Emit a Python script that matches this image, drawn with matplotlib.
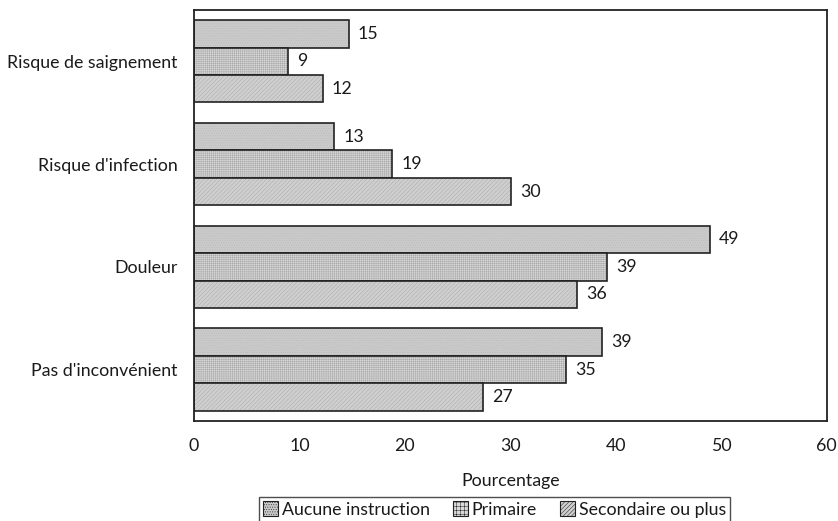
import numpy as np
import matplotlib.pyplot as plt

plt.rcParams['font.family'] = ['Lato', 'DejaVu Sans']
plt.rcParams['hatch.linewidth'] = 0.35

categories = ["Risque de saignement", "Risque d'infection", "Douleur", "Pas d'inconvénient"]
series = ["Aucune instruction", "Primaire", "Secondaire ou plus"]
aucune = [14.7, 13.3, 48.9, 38.7]
primaire = [8.9, 18.8, 39.2, 35.3]
secondaire = [12.2, 30.1, 36.3, 27.4]
labels = [[15, 13, 49, 39], [9, 19, 39, 35], [12, 30, 36, 27]]

face_cols = ['#cacaca', '#d8d8d8', '#cfcfcf']
hatches = ['.......', '++++++++', '////////']
legend_hatches = ['.......', '++++', '////////']
hatch_cols = ['#bababa', '#a8a8a8', '#aaaaaa']
fs = 12.8

fig = plt.figure(figsize=(8.38, 5.21), dpi=100)
ax = fig.add_axes([0.2315, 0.1919, 0.755, 0.789])

h = 0.267
y = np.arange(len(categories))
for k, vals in enumerate([aucune, primaire, secondaire]):
    pos = y - h + k * h
    bars = ax.barh(pos, vals, height=h, color=face_cols[k], edgecolor=hatch_cols[k],
                   hatch=hatches[k], linewidth=0, label=series[k])
    ax.barh(pos, vals, height=h, color='none', edgecolor='#222222', linewidth=1.2)
    for b, v, t in zip(bars, vals, labels[k]):
        ax.text(v + 0.85, b.get_y() + h / 2, str(t), va='center', ha='left',
                fontsize=fs, color='#1a1a1a')

ax.set_xlim(0, 60)
ax.set_ylim(3.5, -0.5)
ax.set_yticks(y)
ax.set_yticklabels(categories, fontsize=fs)
ax.set_xticks(range(0, 61, 10))
ax.tick_params(axis='both', length=0, labelsize=fs, labelcolor='#1a1a1a')
ax.tick_params(axis='x', pad=12)
ax.tick_params(axis='y', pad=12)
for s in ax.spines.values():
    s.set_linewidth(1.3)
    s.set_color('#222222')
ax.set_xlabel('Pourcentage', fontsize=fs, labelpad=14, color='#1a1a1a')

handles = [plt.Rectangle((0, 0), 1, 1, facecolor=face_cols[k], edgecolor=hatch_cols[k],
                         hatch=legend_hatches[k], linewidth=0) for k in range(3)]
leg = fig.legend(handles, series, loc='upper center', bbox_to_anchor=(0.59, 0.046),
                 ncol=3, fontsize=fs, frameon=True, fancybox=False, edgecolor='#222222',
                 handlelength=0.85, handleheight=0.85, handletextpad=0.2, columnspacing=1.3,
                 borderpad=0.25, borderaxespad=0)
leg.get_frame().set_linewidth(1.0)
for p in leg.get_patches():
    p.set_edgecolor('#222222')
    p.set_linewidth(0.8)
for t in leg.get_texts():
    t.set_color('#1a1a1a')

fig.savefig('out.png', dpi=100)
